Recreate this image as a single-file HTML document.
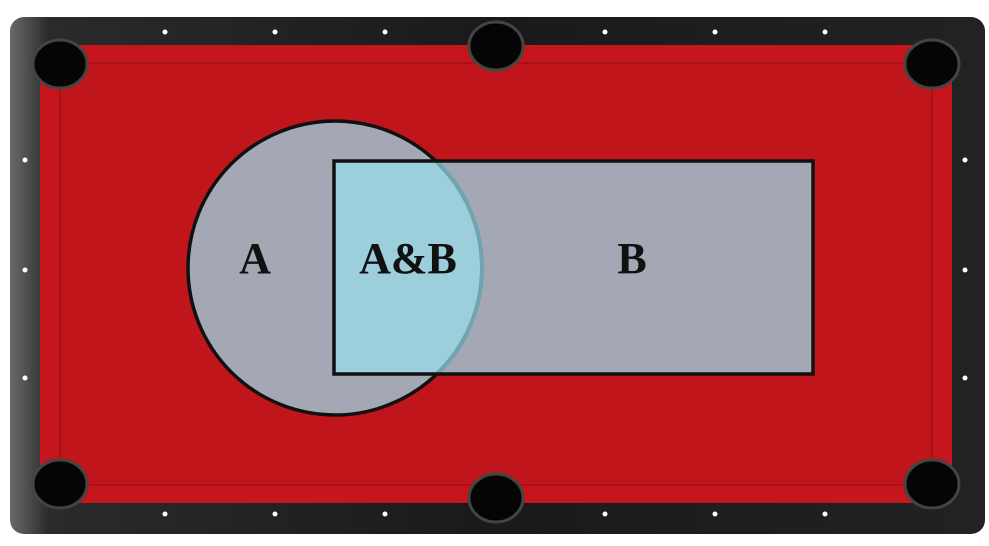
<!DOCTYPE html>
<html>
<head>
<meta charset="utf-8">
<style>
  html,body{margin:0;padding:0;background:#fff;}
  svg{display:block;}
  text{font-family:"Liberation Serif",serif;font-weight:bold;}
</style>
</head>
<body>
<svg id="chart" width="989" height="546" viewBox="0 0 989 546">
  <defs>
    <linearGradient id="frameG" x1="0" y1="0" x2="1" y2="0">
      <stop offset="0" stop-color="#6a6a6a"/>
      <stop offset="0.04" stop-color="#2a2a2a"/>
      <stop offset="0.5" stop-color="#1a1a1a"/>
      <stop offset="1" stop-color="#222"/>
    </linearGradient>
    <clipPath id="circClip"><circle cx="335" cy="268" r="147"/></clipPath>
    <clipPath id="rectClip"><rect x="334" y="161" width="479" height="213"/></clipPath>
  </defs>
  <rect x="10" y="17" width="975" height="517" rx="14" fill="url(#frameG)"/>
  <rect x="40" y="45" width="912" height="458" fill="#c4161c"/>
  <rect x="60" y="63" width="872" height="422" fill="#c0151b" stroke="#a81217" stroke-width="2"/>
  <g id="pockets"></g>
  <g id="diamonds"></g>
  <circle cx="335" cy="268" r="147" fill="#a4a8b4"/>
  <rect x="334" y="161" width="479" height="213" fill="#a4a8b4"/>
  <rect x="334" y="161" width="479" height="213" fill="#9dcedc" clip-path="url(#circClip)"/>
  <circle cx="335" cy="268" r="147" fill="none" stroke="#111" stroke-width="3.5"/>
  <circle cx="335" cy="268" r="147" fill="none" stroke="#6fa4b1" stroke-width="4" clip-path="url(#rectClip)"/>
  <rect x="334" y="161" width="479" height="213" fill="none" stroke="#111" stroke-width="3.5"/>
  <text x="255" y="273" font-size="44" text-anchor="middle" fill="#111">A</text>
  <text x="408" y="273" font-size="44" text-anchor="middle" fill="#111">A&amp;B</text>
  <text x="632" y="273" font-size="44" text-anchor="middle" fill="#111">B</text>
</svg>
<script>
const pocketX = [60, 496, 932, 60, 496, 932];
const pocketY = [64, 46, 64, 484, 498, 484];
const diamondTopX = [165, 275, 385, 605, 715, 825];
const diamondSideY = [160, 270, 378];
const NS = 'http://www.w3.org/2000/svg';
const pg = document.getElementById('pockets');
pocketX.forEach((x, i) => {
  const c = document.createElementNS(NS, 'ellipse');
  c.setAttribute('cx', x); c.setAttribute('cy', pocketY[i]);
  c.setAttribute('rx', 27); c.setAttribute('ry', 24);
  c.setAttribute('fill', '#050505'); c.setAttribute('stroke', '#444'); c.setAttribute('stroke-width', 3);
  
  
  pg.appendChild(c);
});
const dg = document.getElementById('diamonds');
function dot(x, y) {
  const d = document.createElementNS(NS, 'circle');
  d.setAttribute('cx', x); d.setAttribute('cy', y); d.setAttribute('r', 2.5);
  d.setAttribute('fill', '#fff');
  
  
  dg.appendChild(d);
}
diamondTopX.forEach(x => { dot(x, 32); dot(x, 514); });
diamondSideY.forEach(y => { dot(25, y); dot(965, y); });
</script>
</body>
</html>
